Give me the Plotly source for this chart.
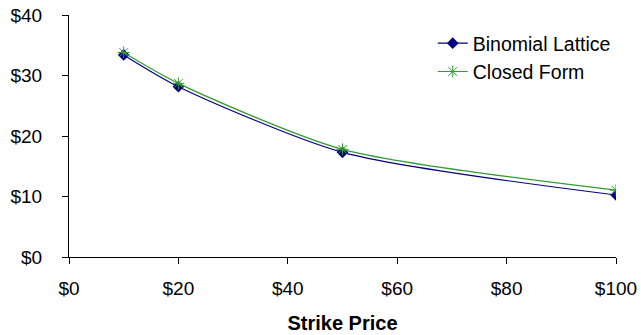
import plotly.graph_objects as go

strike = [10, 20, 50, 100]
binomial = [33.4, 28.15, 17.3, 10.25]
closed_form = [33.8, 28.7, 17.8, 11.05]
x_ticks = [0, 20, 40, 60, 80, 100]
y_ticks = [0, 10, 20, 30, 40]

fig = go.Figure()
fig.add_trace(go.Scatter(
    x=strike, y=binomial, name="Binomial Lattice", mode="lines+markers",
    line=dict(color="#000080", width=1.2, shape="spline", smoothing=0.7),
    marker=dict(symbol="diamond", size=9, color="#000080"),
))
fig.add_trace(go.Scatter(
    x=strike, y=closed_form, name="Closed Form", mode="lines+markers",
    line=dict(color="#339933", width=1.2, shape="spline", smoothing=0.7),
    marker=dict(symbol="asterisk-open", size=10, color="#339933", line=dict(color="#339933", width=1)),
))

fig.update_layout(
    width=641, height=335,
    margin=dict(l=69, r=25, t=15, b=78, autoexpand=False),
    paper_bgcolor="white", plot_bgcolor="white",
    font=dict(family="Liberation Sans, Arial", size=19, color="black"),
    showlegend=True,
    legend=dict(x=0.665, y=0.963, xanchor="left", yanchor="top",
                bgcolor="rgba(0,0,0,0)", font=dict(size=19.5), tracegroupgap=0,
                itemwidth=30),
    xaxis=dict(
        range=[0, 100], tickvals=x_ticks, ticktext=[f"${v}" for v in x_ticks],
        showgrid=False, zeroline=False, showline=True, linecolor="black", linewidth=1,
        ticks="outside", ticklen=6, tickcolor="black", ticklabelstandoff=8,
        automargin=False,
        title=dict(text="<b>Strike Price</b>", font=dict(size=20), standoff=18),
    ),
    yaxis=dict(
        range=[0, 40], tickvals=y_ticks, ticktext=[f"${v}" for v in y_ticks],
        showgrid=False, zeroline=False, showline=True, linecolor="black", linewidth=1,
        ticks="outside", ticklen=6, tickcolor="black", ticklabelstandoff=16,
        automargin=False,
    ),
)

fig.write_html(
    "out.html",
    config={"displayModeBar": False},
    post_script="document.body.style.margin='0';document.body.style.overflow='hidden';",
)
